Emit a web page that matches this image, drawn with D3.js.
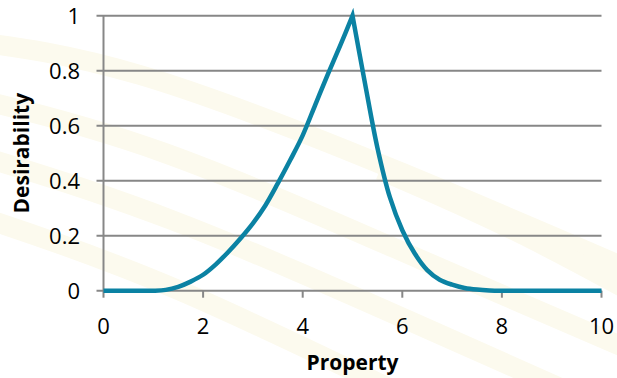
<!DOCTYPE html>
<html><head><meta charset="utf-8">
<script src="https://cdn.jsdelivr.net/npm/d3@7"></script>
<style>html,body{margin:0;padding:0;background:#fff;}svg{display:block;}</style>
</head><body>
<svg id="c" width="617" height="378"></svg>
<script>
const propertyX = [0,0.5,1,1.25,1.5,1.75,2,2.25,2.5,2.75,3,3.25,3.5,3.75,4,4.25,4.5,4.75,5,5.25,5.5,5.75,6,6.25,6.5,6.75,7,7.25,7.5,7.75,8,8.5,9,9.5,10];
const desirability = [0,0,0,0.003,0.014,0.033,0.058,0.095,0.14,0.19,0.245,0.31,0.39,0.475,0.565,0.675,0.785,0.89,1,0.755,0.52,0.34,0.22,0.135,0.075,0.04,0.022,0.01,0.004,0.001,0,0,0,0,0];
const xTicks = [0,2,4,6,8,10];
const yTicks = [0,0.2,0.4,0.6,0.8,1];
const xTitle = "Property";
const yTitle = "Desirability";

const svg = d3.select("#c");
const m = {left:103.5, right:601.5, top:15.7, bottom:290.7};
const x = d3.scaleLinear().domain([0,10]).range([m.left, m.right]);
const y = d3.scaleLinear().domain([0,1]).range([m.bottom, m.top]);

// faint background decoration bands
const bg = svg.append("g");
const bands = [
  [[-40,40],[120,60],[400,170],[700,300]],
  [[-40,95],[150,140],[420,260],[700,380]],
  [[-40,150],[160,210],[430,330],[700,450]],
  [[-40,210],[170,280],[430,410],[700,530]],
  [[380,170],[520,230],[700,330]]
];
const bl = d3.line().curve(d3.curveBasis);
bands.forEach(b => bg.append("path").attr("d", bl(b)).attr("fill","none")
  .attr("stroke","#fcfaee").attr("stroke-width",20));

svg.append("g").selectAll("line").data(yTicks).join("line")
  .attr("x1", m.left-7).attr("x2", m.right)
  .attr("y1", d=>y(d)).attr("y2", d=>y(d))
  .attr("stroke","#878787").attr("stroke-width",2);

svg.append("line").attr("x1",m.left).attr("x2",m.left).attr("y1",m.top).attr("y2",m.bottom)
  .attr("stroke","#878787").attr("stroke-width",2);

svg.append("g").selectAll("line").data(xTicks).join("line")
  .attr("x1", d=>x(d)).attr("x2", d=>x(d))
  .attr("y1", m.bottom).attr("y2", m.bottom+7)
  .attr("stroke","#878787").attr("stroke-width",2);

const font = "'Open Sans', Lato, sans-serif";
svg.append("g").selectAll("text").data(yTicks).join("text")
  .attr("x", 80).attr("y", d=>y(d)+8)
  .attr("text-anchor","end").attr("font-family",font).attr("font-size",22).attr("fill","#000")
  .text(d=>d);
svg.append("g").selectAll("text").data(xTicks).join("text")
  .attr("x", d=>x(d)).attr("y", 334)
  .attr("text-anchor","middle").attr("font-family",font).attr("font-size",22).attr("fill","#000")
  .text(d=>d);

svg.append("text").attr("x",(m.left+m.right)/2).attr("y",370)
  .attr("text-anchor","middle").attr("font-family",font).attr("font-weight","bold")
  .attr("font-size",21).text(xTitle);
svg.append("text").attr("transform",`translate(29,${(m.top+m.bottom)/2}) rotate(-90)`)
  .attr("text-anchor","middle").attr("font-family",font).attr("font-weight","bold")
  .attr("font-size",21).text(yTitle);

const data = propertyX.map((v,i)=>({x:v,y:desirability[i]}));
const peak = d3.maxIndex(desirability);
const line = d3.line().x(d=>x(d.x)).y(d=>y(d.y)).curve(d3.curveCatmullRom.alpha(0.5));
const left = data.slice(0, peak+1), right = data.slice(peak);
svg.append("path")
  .attr("d", line(left) + line(right).replace(/^M[^A-Za-z]*/, m2 => "L" + m2.slice(1)))
  .attr("fill","none").attr("stroke","#0b82a3").attr("stroke-width",4.5)
  .attr("stroke-linejoin","miter").attr("stroke-miterlimit",10);
</script>
</body></html>
